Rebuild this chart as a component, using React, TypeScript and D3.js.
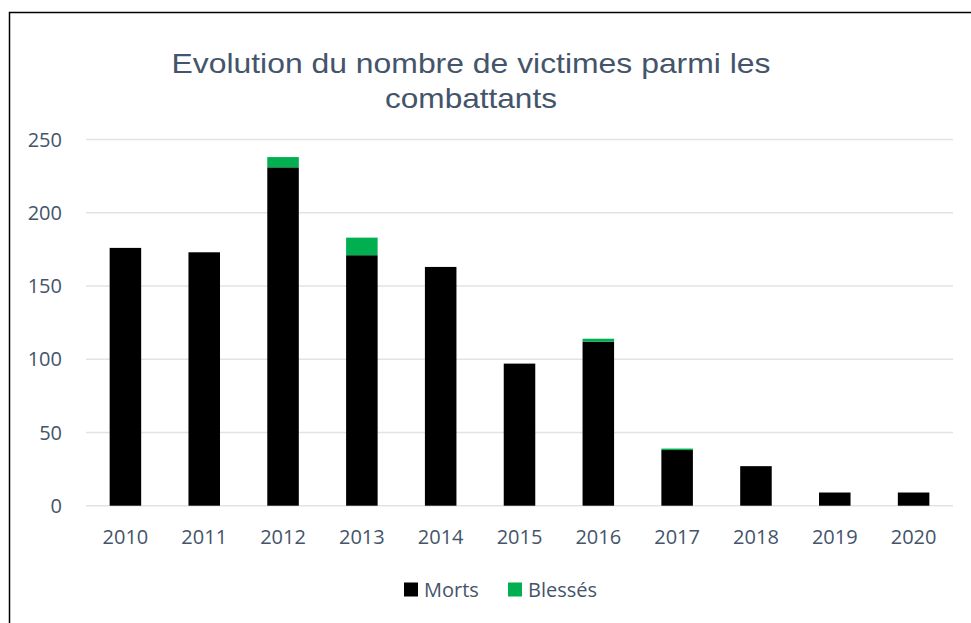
import React from "react";
import * as d3 from "d3";

const years = ["2010","2011","2012","2013","2014","2015","2016","2017","2018","2019","2020"];
const morts = [176, 173, 231, 171, 163, 97, 112, 38, 27, 9, 9];
const blesses = [0, 0, 7, 12, 0, 0, 2, 1, 0, 0, 0];
const yTicks = [0, 50, 100, 150, 200, 250];
const seriesNames = ["Morts", "Blessés"];
const seriesColors = ["#000000", "#00B050"];
const titleLines = ["Evolution du nombre de victimes parmi les", "combattants"];

const W = 971, H = 623;
const textColor = "#44546A";

export default function App() {
  const x = d3.scaleBand<string>().domain(years).range([86, 953]).paddingInner(0.6).paddingOuter(0.3);
  const y = d3.scaleLinear().domain([0, 250]).range([505.7, 139.5]);
  const rows = years.map((yr, i) => ({ year: yr, Morts: morts[i], "Blessés": blesses[i] }));
  const stacked = d3.stack<any>().keys(seriesNames)(rows);
  const titleWidths = [599, 172];

  return (
    <svg width={W} height={H} style={{ position: "absolute", left: 0, top: 0, background: "#fff" }}>
      <rect x={0} y={0} width={W} height={H} fill="#fff" />
      <path d={`M9.5,${H + 5} V12.5 H${W + 5}`} fill="none" stroke="#000" strokeWidth={1.5} />
      {titleLines.map((t, i) => (
        <text key={i} x={471} y={72.5 + i * 35.5} textAnchor="middle" fontFamily="'Liberation Sans', Arial, sans-serif"
          fontSize={28} fill={textColor} textLength={titleWidths[i]} lengthAdjust="spacingAndGlyphs">{t}</text>
      ))}
      {yTicks.map((t) => (
        <g key={t}>
          <line x1={86} x2={953} y1={y(t)} y2={y(t)} stroke="#E0E3E8" strokeWidth={1.5} />
          <text x={62} y={y(t)} dy="0.36em" textAnchor="end" fontFamily="'Open Sans', sans-serif" fontSize={20} fill={textColor}>{t}</text>
        </g>
      ))}
      {stacked.map((s, si) => (
        <g key={s.key}>
          {s.map((d, i) => (d[1] - d[0] > 0 ? (
            <rect key={i} x={x(years[i])} width={x.bandwidth()} y={y(d[1])} height={y(d[0]) - y(d[1])}
              fill={seriesColors[si]} />
          ) : null))}
        </g>
      ))}
      {years.map((yr) => (
        <text key={yr} x={(x(yr) as number) + x.bandwidth() / 2} y={544} textAnchor="middle"
          fontFamily="'Open Sans', sans-serif" fontSize={20} fill={textColor}>{yr}</text>
      ))}
      {seriesNames.map((n, i) => {
        const lx = [404, 508][i];
        return (
          <g key={n}>
            <rect x={lx} y={582.5} width={14} height={14} fill={seriesColors[i]} />
            <text x={lx + 20} y={597} fontFamily="'Open Sans', sans-serif" fontSize={20} fill={textColor}>{n}</text>
          </g>
        );
      })}
    </svg>
  );
}
